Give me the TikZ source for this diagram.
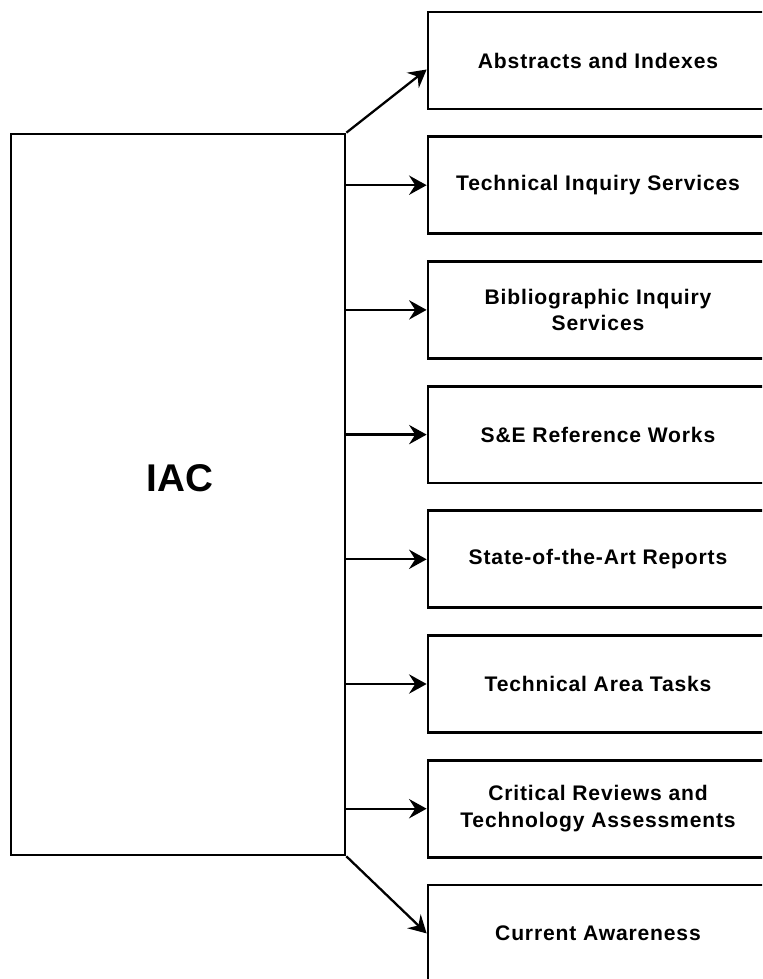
\documentclass[tikz,border=0pt]{standalone}
\usepackage{fontspec}
\setmainfont{Liberation Sans}
\usetikzlibrary{arrows.meta,calc}
\begin{document}
\begin{tikzpicture}[x=0.02cm,y=-0.02cm,
  box/.style={draw,line width=1.6pt,minimum width=6.8cm,minimum height=1.94cm,
    align=center,font=\bfseries\fontsize{12}{15}\selectfont\addfontfeature{LetterSpace=4}},
  feed/.style={line width=1.3pt,-{Stealth[length=10pt,width=11pt,inset=3.5pt]}}]
  \useasboundingbox (0,0) rectangle (762,979);
  \clip (0,0) rectangle (762,979);
  % the centre
  \node[draw,line width=1.6pt,minimum width=6.68cm,minimum height=14.42cm] (iac) at (178,494.5) {};
  \node[font=\bfseries\fontsize{22}{26}\selectfont] (iaclabel) at (180,478) {IAC};
  % products and services
  \node[box] (abs) at (598,60.5) {Abstracts and Indexes};
  \node[box] (tis) at (598,185.2) {Technical Inquiry Services};
  \node[box] (bis) at (598,309.9) {Bibliographic Inquiry\\Services};
  \node[box] (ref) at (598,434.6) {S\&E Reference Works};
  \node[box] (soa) at (598,559.3) {State-of-the-Art Reports};
  \node[box] (tat) at (598,684) {Technical Area Tasks};
  \node[box] (crt) at (598,808.7) {Critical Reviews and\\Technology Assessments};
  \node[box] (cur) at (598,933.4) {Current Awareness};
  % arrows
  \draw[feed] (iac.north east) -- ($(abs.west)+(0,9)$);
  \draw[feed] (iac.east |- tis.west) -- (tis.west);
  \draw[feed] (iac.east |- bis.west) -- (bis.west);
  \draw[feed] (iac.east |- ref.west) -- (ref.west);
  \draw[feed] (iac.east |- soa.west) -- (soa.west);
  \draw[feed] (iac.east |- tat.west) -- (tat.west);
  \draw[feed] (iac.east |- crt.west) -- (crt.west);
  \draw[feed] (iac.south east) -- (cur.west);
\end{tikzpicture}
\end{document}
